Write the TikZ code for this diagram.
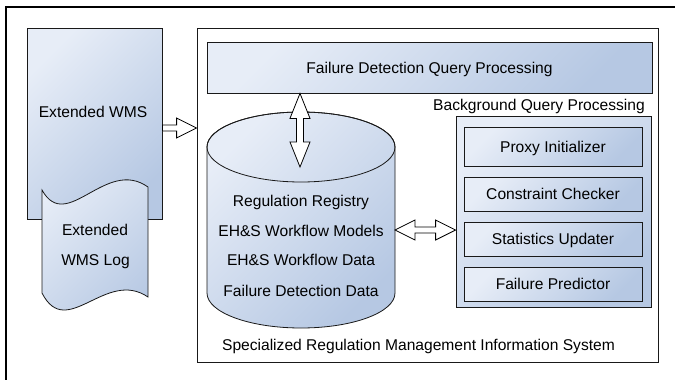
\documentclass[tikz,border=0pt]{standalone}
\usepackage{fontspec}
\setmainfont{Liberation Sans}
\usetikzlibrary{calc}

\definecolor{panelLight}{RGB}{231,237,247}
\definecolor{panelDark}{RGB}{182,200,227}
\definecolor{edge}{RGB}{25,25,25}

\tikzset{
  panel/.style={draw=edge, line width=0.8pt, top color=panelLight,
                bottom color=panelDark, shading angle=45},
  boxnode/.style={panel, inner sep=0pt, text height=11.2pt, text depth=0pt},
  txt/.style={inner sep=0pt, text height=11.2pt, text depth=0pt},
  blockarr/.style={draw=black, fill=white, line width=0.8pt, line join=miter},
}

\begin{document}
\begin{tikzpicture}[x=1pt, y=-1pt, font=\fontsize{15.6}{18}\selectfont]
\useasboundingbox (0,0) rectangle (675,380);

% page frame: only its top and left edges lie on the page
\draw[line width=2.2pt] (6,380) -- (6,7) -- (675,7);

% the information system container
\node[draw=edge, fill=white, line width=0.8pt, minimum width=461pt,
      minimum height=334pt, inner sep=0pt] (srmis) at (427.5,195) {};
\node[txt] (srmisText) at (418.5,345)
  {Specialized Regulation Management Information System};

% workflow management system and its log
\node[panel, minimum width=135pt, minimum height=191pt, inner sep=0pt]
  (wms) at (94.5,123.5) {};
\node[txt] (wmsText) at (93,112) {Extended WMS};
\path[panel] (42,190) .. controls (66.7,234.3) and (105.6,156.9) .. (148,187)
  -- (148,297) .. controls (105.6,268.1) and (66.7,341.4) .. (42,293) -- cycle;
\node[txt] (logA) at (95,230) {Extended};
\node[txt] (logB) at (95.5,260) {WMS Log};

% link from the WMS into the system
\coordinate (wmsLevel) at (0,128);
\coordinate (a1) at (wms.east |- wmsLevel);
\coordinate (a2) at (srmis.west |- wmsLevel);
\draw[blockarr] ($(a1)+(0,-3)$) -- ($(a2)+(-20,-3)$) -- ($(a2)+(-20,-10)$)
  -- (a2) -- ($(a2)+(-20,10)$) -- ($(a2)+(-20,3)$) -- ($(a1)+(0,3)$) -- cycle;

% query processing bar
\node[boxnode, minimum width=445pt, minimum height=51pt] (fdqp)
  at (429.5,67.5) {Failure Detection Query Processing};

% database cylinder
\path[panel] (207,147) -- (207,293)
  .. controls (207,312.33) and (249.08,328) .. (301,328)
  .. controls (352.92,328) and (395,312.33) .. (395,293)
  -- (395,147)
  .. controls (395,127.67) and (352.92,112) .. (301,112)
  .. controls (249.08,112) and (207,127.67) .. (207,147) -- cycle;
\draw[draw=edge, line width=0.8pt] (301,147) ellipse [x radius=94pt, y radius=35pt];
\node[txt] (reg)    at (301,201) {Regulation Registry};
\node[txt] (models) at (301,231) {EH\&S Workflow Models};
\node[txt] (wfdata) at (301,260) {EH\&S Workflow Data};
\node[txt] (fddata) at (301,291) {Failure Detection Data};
\coordinate (dbTop) at (300,167);
\coordinate (dbRight) at (395,230);

% query bar <-> database
\coordinate (vTop) at (dbTop |- fdqp.south);
\draw[blockarr] (vTop) -- ($(vTop)+(10,25)$) -- ($(vTop)+(3.5,25)$)
  -- ($(dbTop)+(3.5,-25)$) -- ($(dbTop)+(10,-25)$) -- (dbTop)
  -- ($(dbTop)+(-10,-25)$) -- ($(dbTop)+(-3.5,-25)$)
  -- ($(vTop)+(-3.5,25)$) -- ($(vTop)+(-10,25)$) -- cycle;

% background processing group
\node[txt] (bqpText) at (539,105) {Background Query Processing};
\node[panel, minimum width=195pt, minimum height=191pt, inner sep=0pt]
  (bqp) at (553.5,211.5) {};
\node[boxnode, minimum width=178pt, minimum height=39pt] (proxy)
  at (553,146.5) {Proxy Initializer};
\node[boxnode, minimum width=178pt, minimum height=34pt] (checker)
  at (553,194) {Constraint Checker};
\node[boxnode, minimum width=178pt, minimum height=34pt] (stats)
  at (553,239) {Statistics Updater};
\node[boxnode, minimum width=178pt, minimum height=34pt] (predictor)
  at (553,284) {Failure Predictor};

% database <-> background processing
\coordinate (hR) at (bqp.west |- dbRight);
\draw[blockarr] (dbRight) -- ($(dbRight)+(20,-10)$) -- ($(dbRight)+(20,-3)$)
  -- ($(hR)+(-20,-3)$) -- ($(hR)+(-20,-10)$) -- (hR)
  -- ($(hR)+(-20,10)$) -- ($(hR)+(-20,3)$)
  -- ($(dbRight)+(20,3)$) -- ($(dbRight)+(20,10)$) -- cycle;
\end{tikzpicture}
\end{document}
